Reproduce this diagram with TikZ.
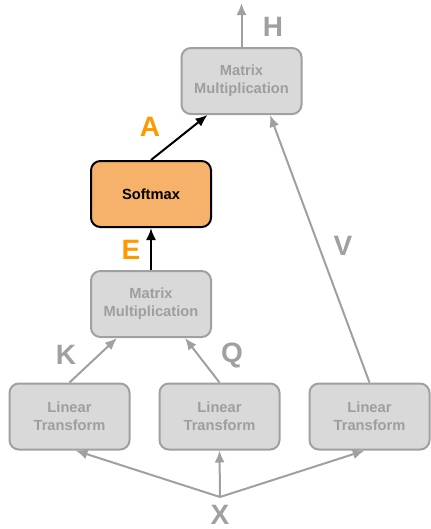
\documentclass[tikz,border=0pt]{standalone}
\usepackage{xcolor}
\usepackage{fontspec}
\setmainfont{Liberation Sans}
\usepackage{tikz}
\usetikzlibrary{arrows.meta, positioning, calc}
\definecolor{boxgray}{RGB}{217, 217, 217}
\definecolor{linegray}{RGB}{160, 160, 160}
\definecolor{textgray}{RGB}{158, 158, 158}
\definecolor{softorange}{RGB}{246, 178, 107}
\definecolor{labelorange}{RGB}{255, 153, 0}

\begin{document}
\begin{tikzpicture}[x=0.75pt, y=-0.75pt,
    block/.style={rectangle, rounded corners=7pt, line width=1.5pt, draw=linegray, fill=boxgray,
        text=textgray, font=\fontsize{11}{13.5}\selectfont\bfseries, align=center,
        minimum width=90pt, minimum height=49.5pt},
    flow/.style={line width=1.5pt, linegray, -{Latex[length=9pt, width=7.5pt]}},
    tag/.style={font=\fontsize{21}{21}\selectfont\bfseries, text=linegray, inner sep=0pt}]
    \useasboundingbox (0,0) rectangle (431,529);

    % Blocks
    \node[block] (mmtop) at (241.5,81) {Matrix\\Multiplication};
    \node[block, draw=black, fill=softorange, text=black] (soft) at (151,194) {Softmax};
    \node[block] (mmmid) at (151,304) {Matrix\\Multiplication};
    \node[block] (ltk) at (69.5,416.5) {Linear\\Transform};
    \node[block] (ltq) at (219.5,416.5) {Linear\\Transform};
    \node[block] (ltv) at (369.5,416.5) {Linear\\Transform};

    % Input and output
    \node[tag] (xin) at (220,515) {X};
    \coordinate (fork) at (220,497);
    \coordinate (hout) at (241.5,3);

    % Arrows
    \draw[flow] (fork) -- (ltk.-80);
    \draw[flow] (fork) -- (ltq.south);
    \draw[flow] (fork) -- (ltv.-98);
    \draw[flow] (ltk.north) -- (mmmid.-135);
    \draw[flow] (ltq.north) -- (mmmid.-45);
    \draw[flow] (ltv.north) -- (mmtop.-50);
    \draw[flow, black] (mmmid.north) -- (soft.south);
    \draw[flow, black] (soft.north) -- (mmtop.-135);
    \draw[flow] (mmtop.north) -- (hout);

    % Labels
    \node[tag] (hlab) at (273,27) {H};
    \node[tag, text=labelorange] (alab) at (150,127) {A};
    \node[tag, text=labelorange] (elab) at (131,250) {E};
    \node[tag] (klab) at (66,355) {K};
    \node[tag] (qlab) at (232,355) {Q};
    \node[tag] (vlab) at (343,246) {V};
\end{tikzpicture}
\end{document}
